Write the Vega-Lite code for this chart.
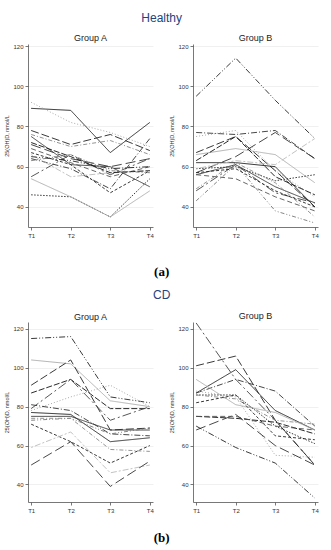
{
  "$schema": "https://vega.github.io/schema/vega-lite/v6.json",
  "padding": {"left": 4, "top": 12, "right": 5, "bottom": 3},
  "background": "white",
  "config": {
    "view": {"stroke": null},
    "font": "Liberation Sans",
    "title": {"font": "Liberation Sans", "fontWeight": "normal", "fontSize": 12, "color": "#24427e", "anchor": "middle"},
    "axis": {"domainColor": "#555", "tickColor": "#555", "tickSize": 3, "labelFontSize": 6, "labelColor": "#333", "titleFontSize": 5.5, "titleFontWeight": "normal", "titleColor": "#333", "gridColor": "#ececec", "gridWidth": 0.8, "domainWidth": 0.8, "tickWidth": 0.8, "labelFont": "Liberation Sans", "titleFont": "Liberation Sans"},
    "line": {"strokeWidth": 0.9}
  },
  "data": {"values": [
    {"c":"H","g":"A","s":"01","t":"T1","v":89},{"c":"H","g":"A","s":"01","t":"T2","v":88},{"c":"H","g":"A","s":"01","t":"T3","v":67},{"c":"H","g":"A","s":"01","t":"T4","v":82},
    {"c":"H","g":"A","s":"04","t":"T1","v":92},{"c":"H","g":"A","s":"04","t":"T2","v":82},{"c":"H","g":"A","s":"04","t":"T3","v":77},{"c":"H","g":"A","s":"04","t":"T4","v":70},
    {"c":"H","g":"A","s":"02","t":"T1","v":78},{"c":"H","g":"A","s":"02","t":"T2","v":71},{"c":"H","g":"A","s":"02","t":"T3","v":76},{"c":"H","g":"A","s":"02","t":"T4","v":68},
    {"c":"H","g":"A","s":"12","t":"T1","v":76},{"c":"H","g":"A","s":"12","t":"T2","v":70},{"c":"H","g":"A","s":"12","t":"T3","v":73},{"c":"H","g":"A","s":"12","t":"T4","v":66},
    {"c":"H","g":"A","s":"09","t":"T1","v":75},{"c":"H","g":"A","s":"09","t":"T2","v":61},{"c":"H","g":"A","s":"09","t":"T3","v":60},{"c":"H","g":"A","s":"09","t":"T4","v":50},
    {"c":"H","g":"A","s":"13","t":"T1","v":71},{"c":"H","g":"A","s":"13","t":"T2","v":64},{"c":"H","g":"A","s":"13","t":"T3","v":60},{"c":"H","g":"A","s":"13","t":"T4","v":64},
    {"c":"H","g":"A","s":"10","t":"T1","v":69},{"c":"H","g":"A","s":"10","t":"T2","v":62},{"c":"H","g":"A","s":"10","t":"T3","v":55},{"c":"H","g":"A","s":"10","t":"T4","v":60},
    {"c":"H","g":"A","s":"05","t":"T1","v":67},{"c":"H","g":"A","s":"05","t":"T2","v":61},{"c":"H","g":"A","s":"05","t":"T3","v":47},{"c":"H","g":"A","s":"05","t":"T4","v":58},
    {"c":"H","g":"A","s":"03","t":"T1","v":64},{"c":"H","g":"A","s":"03","t":"T2","v":59},{"c":"H","g":"A","s":"03","t":"T3","v":49},{"c":"H","g":"A","s":"03","t":"T4","v":74},
    {"c":"H","g":"A","s":"11","t":"T1","v":46},{"c":"H","g":"A","s":"11","t":"T2","v":45},{"c":"H","g":"A","s":"11","t":"T3","v":35},{"c":"H","g":"A","s":"11","t":"T4","v":54},
    {"c":"H","g":"A","s":"08","t":"T1","v":55},{"c":"H","g":"A","s":"08","t":"T2","v":66},{"c":"H","g":"A","s":"08","t":"T3","v":56},{"c":"H","g":"A","s":"08","t":"T4","v":64},
    {"c":"H","g":"A","s":"07","t":"T1","v":54},{"c":"H","g":"A","s":"07","t":"T2","v":45},{"c":"H","g":"A","s":"07","t":"T3","v":35},{"c":"H","g":"A","s":"07","t":"T4","v":48},
    {"c":"H","g":"A","s":"16","t":"T1","v":66},{"c":"H","g":"A","s":"16","t":"T2","v":55},{"c":"H","g":"A","s":"16","t":"T3","v":57},{"c":"H","g":"A","s":"16","t":"T4","v":58},
    {"c":"H","g":"A","s":"15","t":"T1","v":72},{"c":"H","g":"A","s":"15","t":"T2","v":65},{"c":"H","g":"A","s":"15","t":"T3","v":57},{"c":"H","g":"A","s":"15","t":"T4","v":58},
    {"c":"H","g":"A","s":"06","t":"T1","v":65},{"c":"H","g":"A","s":"06","t":"T2","v":63},{"c":"H","g":"A","s":"06","t":"T3","v":59},{"c":"H","g":"A","s":"06","t":"T4","v":60},
    {"c":"H","g":"A","s":"14","t":"T1","v":63},{"c":"H","g":"A","s":"14","t":"T2","v":66},{"c":"H","g":"A","s":"14","t":"T3","v":58},{"c":"H","g":"A","s":"14","t":"T4","v":57},

    {"c":"H","g":"B","s":"06","t":"T1","v":95},{"c":"H","g":"B","s":"06","t":"T2","v":114},{"c":"H","g":"B","s":"06","t":"T3","v":93},{"c":"H","g":"B","s":"06","t":"T4","v":74},
    {"c":"H","g":"B","s":"03","t":"T1","v":77},{"c":"H","g":"B","s":"03","t":"T2","v":76},{"c":"H","g":"B","s":"03","t":"T3","v":78},{"c":"H","g":"B","s":"03","t":"T4","v":64},
    {"c":"H","g":"B","s":"04","t":"T1","v":75},{"c":"H","g":"B","s":"04","t":"T2","v":78},{"c":"H","g":"B","s":"04","t":"T3","v":58},{"c":"H","g":"B","s":"04","t":"T4","v":45},
    {"c":"H","g":"B","s":"07","t":"T1","v":66},{"c":"H","g":"B","s":"07","t":"T2","v":69},{"c":"H","g":"B","s":"07","t":"T3","v":66},{"c":"H","g":"B","s":"07","t":"T4","v":52},
    {"c":"H","g":"B","s":"02","t":"T1","v":67},{"c":"H","g":"B","s":"02","t":"T2","v":75},{"c":"H","g":"B","s":"02","t":"T3","v":58},{"c":"H","g":"B","s":"02","t":"T4","v":40},
    {"c":"H","g":"B","s":"15","t":"T1","v":63},{"c":"H","g":"B","s":"15","t":"T2","v":75},{"c":"H","g":"B","s":"15","t":"T3","v":55},{"c":"H","g":"B","s":"15","t":"T4","v":46},
    {"c":"H","g":"B","s":"01","t":"T1","v":62},{"c":"H","g":"B","s":"01","t":"T2","v":62},{"c":"H","g":"B","s":"01","t":"T3","v":60},{"c":"H","g":"B","s":"01","t":"T4","v":40},
    {"c":"H","g":"B","s":"09","t":"T1","v":56},{"c":"H","g":"B","s":"09","t":"T2","v":61},{"c":"H","g":"B","s":"09","t":"T3","v":50},{"c":"H","g":"B","s":"09","t":"T4","v":42},
    {"c":"H","g":"B","s":"13","t":"T1","v":57},{"c":"H","g":"B","s":"13","t":"T2","v":65},{"c":"H","g":"B","s":"13","t":"T3","v":77},{"c":"H","g":"B","s":"13","t":"T4","v":64},
    {"c":"H","g":"B","s":"11","t":"T1","v":59},{"c":"H","g":"B","s":"11","t":"T2","v":60},{"c":"H","g":"B","s":"11","t":"T3","v":53},{"c":"H","g":"B","s":"11","t":"T4","v":56},
    {"c":"H","g":"B","s":"08","t":"T1","v":48},{"c":"H","g":"B","s":"08","t":"T2","v":61},{"c":"H","g":"B","s":"08","t":"T3","v":47},{"c":"H","g":"B","s":"08","t":"T4","v":42},
    {"c":"H","g":"B","s":"14","t":"T1","v":43},{"c":"H","g":"B","s":"14","t":"T2","v":61},{"c":"H","g":"B","s":"14","t":"T3","v":38},{"c":"H","g":"B","s":"14","t":"T4","v":32},
    {"c":"H","g":"B","s":"16","t":"T1","v":59},{"c":"H","g":"B","s":"16","t":"T2","v":63},{"c":"H","g":"B","s":"16","t":"T3","v":61},{"c":"H","g":"B","s":"16","t":"T4","v":74},
    {"c":"H","g":"B","s":"10","t":"T1","v":56},{"c":"H","g":"B","s":"10","t":"T2","v":54},{"c":"H","g":"B","s":"10","t":"T3","v":45},{"c":"H","g":"B","s":"10","t":"T4","v":38},
    {"c":"H","g":"B","s":"12","t":"T1","v":49},{"c":"H","g":"B","s":"12","t":"T2","v":62},{"c":"H","g":"B","s":"12","t":"T3","v":52},{"c":"H","g":"B","s":"12","t":"T4","v":35},
    {"c":"H","g":"B","s":"05","t":"T1","v":57},{"c":"H","g":"B","s":"05","t":"T2","v":59},{"c":"H","g":"B","s":"05","t":"T3","v":48},{"c":"H","g":"B","s":"05","t":"T4","v":40},

    {"c":"C","g":"A","s":"06","t":"T1","v":115},{"c":"C","g":"A","s":"06","t":"T2","v":116},{"c":"C","g":"A","s":"06","t":"T3","v":85},{"c":"C","g":"A","s":"06","t":"T4","v":82},
    {"c":"C","g":"A","s":"07","t":"T1","v":104},{"c":"C","g":"A","s":"07","t":"T2","v":102},{"c":"C","g":"A","s":"07","t":"T3","v":83},{"c":"C","g":"A","s":"07","t":"T4","v":80},
    {"c":"C","g":"A","s":"02","t":"T1","v":91},{"c":"C","g":"A","s":"02","t":"T2","v":104},{"c":"C","g":"A","s":"02","t":"T3","v":68},{"c":"C","g":"A","s":"02","t":"T4","v":69},
    {"c":"C","g":"A","s":"15","t":"T1","v":87},{"c":"C","g":"A","s":"15","t":"T2","v":94},{"c":"C","g":"A","s":"15","t":"T3","v":79},{"c":"C","g":"A","s":"15","t":"T4","v":79},
    {"c":"C","g":"A","s":"08","t":"T1","v":79},{"c":"C","g":"A","s":"08","t":"T2","v":94},{"c":"C","g":"A","s":"08","t":"T3","v":73},{"c":"C","g":"A","s":"08","t":"T4","v":80},
    {"c":"C","g":"A","s":"04","t":"T1","v":78},{"c":"C","g":"A","s":"04","t":"T2","v":85},{"c":"C","g":"A","s":"04","t":"T3","v":91},{"c":"C","g":"A","s":"04","t":"T4","v":80},
    {"c":"C","g":"A","s":"03","t":"T1","v":81},{"c":"C","g":"A","s":"03","t":"T2","v":78},{"c":"C","g":"A","s":"03","t":"T3","v":66},{"c":"C","g":"A","s":"03","t":"T4","v":65},
    {"c":"C","g":"A","s":"01","t":"T1","v":77},{"c":"C","g":"A","s":"01","t":"T2","v":76},{"c":"C","g":"A","s":"01","t":"T3","v":62},{"c":"C","g":"A","s":"01","t":"T4","v":64},
    {"c":"C","g":"A","s":"09","t":"T1","v":75},{"c":"C","g":"A","s":"09","t":"T2","v":75},{"c":"C","g":"A","s":"09","t":"T3","v":68},{"c":"C","g":"A","s":"09","t":"T4","v":68},
    {"c":"C","g":"A","s":"14","t":"T1","v":73},{"c":"C","g":"A","s":"14","t":"T2","v":74},{"c":"C","g":"A","s":"14","t":"T3","v":66},{"c":"C","g":"A","s":"14","t":"T4","v":69},
    {"c":"C","g":"A","s":"05","t":"T1","v":71},{"c":"C","g":"A","s":"05","t":"T2","v":62},{"c":"C","g":"A","s":"05","t":"T3","v":51},{"c":"C","g":"A","s":"05","t":"T4","v":60},
    {"c":"C","g":"A","s":"16","t":"T1","v":59},{"c":"C","g":"A","s":"16","t":"T2","v":67},{"c":"C","g":"A","s":"16","t":"T3","v":46},{"c":"C","g":"A","s":"16","t":"T4","v":50},
    {"c":"C","g":"A","s":"13","t":"T1","v":50},{"c":"C","g":"A","s":"13","t":"T2","v":62},{"c":"C","g":"A","s":"13","t":"T3","v":39},{"c":"C","g":"A","s":"13","t":"T4","v":52},
    {"c":"C","g":"A","s":"12","t":"T1","v":74},{"c":"C","g":"A","s":"12","t":"T2","v":74},{"c":"C","g":"A","s":"12","t":"T3","v":58},{"c":"C","g":"A","s":"12","t":"T4","v":57},

    {"c":"C","g":"B","s":"08","t":"T1","v":123},{"c":"C","g":"B","s":"08","t":"T2","v":94},{"c":"C","g":"B","s":"08","t":"T3","v":73},{"c":"C","g":"B","s":"08","t":"T4","v":50},
    {"c":"C","g":"B","s":"02","t":"T1","v":101},{"c":"C","g":"B","s":"02","t":"T2","v":106},{"c":"C","g":"B","s":"02","t":"T3","v":73},{"c":"C","g":"B","s":"02","t":"T4","v":50},
    {"c":"C","g":"B","s":"01","t":"T1","v":87},{"c":"C","g":"B","s":"01","t":"T2","v":99},{"c":"C","g":"B","s":"01","t":"T3","v":78},{"c":"C","g":"B","s":"01","t":"T4","v":68},
    {"c":"C","g":"B","s":"03","t":"T1","v":87},{"c":"C","g":"B","s":"03","t":"T2","v":94},{"c":"C","g":"B","s":"03","t":"T3","v":88},{"c":"C","g":"B","s":"03","t":"T4","v":70},
    {"c":"C","g":"B","s":"07","t":"T1","v":94},{"c":"C","g":"B","s":"07","t":"T2","v":81},{"c":"C","g":"B","s":"07","t":"T3","v":77},{"c":"C","g":"B","s":"07","t":"T4","v":68},
    {"c":"C","g":"B","s":"11","t":"T1","v":86},{"c":"C","g":"B","s":"11","t":"T2","v":86},{"c":"C","g":"B","s":"11","t":"T3","v":70},{"c":"C","g":"B","s":"11","t":"T4","v":61},
    {"c":"C","g":"B","s":"12","t":"T1","v":86},{"c":"C","g":"B","s":"12","t":"T2","v":84},{"c":"C","g":"B","s":"12","t":"T3","v":73},{"c":"C","g":"B","s":"12","t":"T4","v":71},
    {"c":"C","g":"B","s":"05","t":"T1","v":82},{"c":"C","g":"B","s":"05","t":"T2","v":86},{"c":"C","g":"B","s":"05","t":"T3","v":65},{"c":"C","g":"B","s":"05","t":"T4","v":63},
    {"c":"C","g":"B","s":"04","t":"T1","v":88},{"c":"C","g":"B","s":"04","t":"T2","v":85},{"c":"C","g":"B","s":"04","t":"T3","v":55},{"c":"C","g":"B","s":"04","t":"T4","v":54},
    {"c":"C","g":"B","s":"15","t":"T1","v":75},{"c":"C","g":"B","s":"15","t":"T2","v":74},{"c":"C","g":"B","s":"15","t":"T3","v":72},{"c":"C","g":"B","s":"15","t":"T4","v":66},
    {"c":"C","g":"B","s":"13","t":"T1","v":68},{"c":"C","g":"B","s":"13","t":"T2","v":76},{"c":"C","g":"B","s":"13","t":"T3","v":60},{"c":"C","g":"B","s":"13","t":"T4","v":50},
    {"c":"C","g":"B","s":"06","t":"T1","v":70},{"c":"C","g":"B","s":"06","t":"T2","v":59},{"c":"C","g":"B","s":"06","t":"T3","v":51},{"c":"C","g":"B","s":"06","t":"T4","v":33},
    {"c":"C","g":"B","s":"10","t":"T1","v":75},{"c":"C","g":"B","s":"10","t":"T2","v":75},{"c":"C","g":"B","s":"10","t":"T3","v":70},{"c":"C","g":"B","s":"10","t":"T4","v":68}
  ]},
  "spacing": 10,
  "vconcat": [
    {
      "title": {"text": "Healthy", "offset": 9},
      "vconcat": [{
        "title": {"text": "(a)", "orient": "bottom", "font": "Liberation Serif", "fontWeight": "bold", "fontSize": 13, "color": "#000", "offset": 28},
        "spacing": 15,
        "hconcat": [
          {"width": 125, "height": 183, "title": {"text": "Group A", "fontSize": 9, "color": "#222", "offset": 0},
           "transform": [{"filter": "datum.c == 'H' && datum.g == 'A'"}],
           "mark": {"type": "line", "strokeWidth": 0.9},
           "encoding": {
             "x": {"field": "t", "type": "ordinal", "scale": {"type": "point", "padding": 0.08}, "axis": {"title": null, "labelAngle": 0, "grid": false}},
             "y": {"field": "v", "type": "quantitative", "scale": {"domain": [30, 121], "nice": false, "zero": false}, "axis": {"values": [40, 60, 80, 100, 120], "title": "25(OH)D, nmol/L", "titlePadding": 3, "grid": true}},
             "color": {"field": "s", "type": "nominal", "legend": null, "scale": {"domain": ["01","02","03","04","05","06","07","08","09","10","11","12","13","14","15","16"], "range": ["#1a1a1a","#222222","#333333","#a0a0a0","#222222","#222222","#aaaaaa","#444444","#333333","#555555","#222222","#888888","#333333","#777777","#111111","#bbbbbb"]}},
             "strokeDash": {"field": "s", "type": "nominal", "legend": null, "scale": {"domain": ["01","02","03","04","05","06","07","08","09","10","11","12","13","14","15","16"], "range": [[1,0],[8,3],[6,2,1,2],[1,2],[3,2],[6,2,1,2,1,2],[1,0],[9,3,2,3],[1,0],[5,3],[1.5,1.5],[4,2,1,2],[10,4],[4,2,1,2,1,2],[6,2],[2,2,6,2]]}}
           }},
          {"width": 125, "height": 183, "title": {"text": "Group B", "fontSize": 9, "color": "#222", "offset": 0},
           "transform": [{"filter": "datum.c == 'H' && datum.g == 'B'"}],
           "mark": {"type": "line", "strokeWidth": 0.9},
           "encoding": {
             "x": {"field": "t", "type": "ordinal", "scale": {"type": "point", "padding": 0.08}, "axis": {"title": null, "labelAngle": 0, "grid": false}},
             "y": {"field": "v", "type": "quantitative", "scale": {"domain": [30, 121], "nice": false, "zero": false}, "axis": {"values": [40, 60, 80, 100, 120], "title": "25(OH)D, nmol/L", "titlePadding": 3, "grid": true}},
             "color": {"field": "s", "type": "nominal", "legend": null, "scale": {"domain": ["01","02","03","04","05","06","07","08","09","10","11","12","13","14","15","16"], "range": ["#1a1a1a","#222222","#333333","#a0a0a0","#222222","#222222","#aaaaaa","#444444","#333333","#555555","#222222","#888888","#333333","#777777","#111111","#bbbbbb"]}},
             "strokeDash": {"field": "s", "type": "nominal", "legend": null, "scale": {"domain": ["01","02","03","04","05","06","07","08","09","10","11","12","13","14","15","16"], "range": [[1,0],[8,3],[6,2,1,2],[1,2],[3,2],[6,2,1,2,1,2],[1,0],[9,3,2,3],[1,0],[5,3],[1.5,1.5],[4,2,1,2],[10,4],[4,2,1,2,1,2],[6,2],[2,2,6,2]]}}
           }}
        ]
      }]
    },
    {
      "title": {"text": "CD", "offset": 10},
      "vconcat": [{
        "title": {"text": "(b)", "orient": "bottom", "font": "Liberation Serif", "fontWeight": "bold", "fontSize": 13, "color": "#000", "offset": 19},
        "spacing": 15,
        "hconcat": [
          {"width": 125, "height": 180, "title": {"text": "Group A", "fontSize": 9, "color": "#222", "offset": 0},
           "transform": [{"filter": "datum.c == 'C' && datum.g == 'A'"}],
           "mark": {"type": "line", "strokeWidth": 0.9},
           "encoding": {
             "x": {"field": "t", "type": "ordinal", "scale": {"type": "point", "padding": 0.08}, "axis": {"title": null, "labelAngle": 0, "grid": false}},
             "y": {"field": "v", "type": "quantitative", "scale": {"domain": [31, 123.5], "nice": false, "zero": false}, "axis": {"values": [40, 60, 80, 100, 120], "title": "25(OH)D, nmol/L", "titlePadding": 3, "grid": true}},
             "color": {"field": "s", "type": "nominal", "legend": null, "scale": {"domain": ["01","02","03","04","05","06","07","08","09","10","11","12","13","14","15","16"], "range": ["#1a1a1a","#222222","#333333","#a0a0a0","#222222","#222222","#aaaaaa","#444444","#333333","#555555","#222222","#888888","#333333","#777777","#111111","#bbbbbb"]}},
             "strokeDash": {"field": "s", "type": "nominal", "legend": null, "scale": {"domain": ["01","02","03","04","05","06","07","08","09","10","11","12","13","14","15","16"], "range": [[1,0],[8,3],[6,2,1,2],[1,2],[3,2],[6,2,1,2,1,2],[1,0],[9,3,2,3],[1,0],[5,3],[1.5,1.5],[4,2,1,2],[10,4],[4,2,1,2,1,2],[6,2],[2,2,6,2]]}}
           }},
          {"width": 125, "height": 180, "title": {"text": "Group B", "fontSize": 9, "color": "#222", "offset": 0},
           "transform": [{"filter": "datum.c == 'C' && datum.g == 'B'"}],
           "mark": {"type": "line", "strokeWidth": 0.9},
           "encoding": {
             "x": {"field": "t", "type": "ordinal", "scale": {"type": "point", "padding": 0.08}, "axis": {"title": null, "labelAngle": 0, "grid": false}},
             "y": {"field": "v", "type": "quantitative", "scale": {"domain": [31, 123.5], "nice": false, "zero": false}, "axis": {"values": [40, 60, 80, 100, 120], "title": "25(OH)D, nmol/L", "titlePadding": 3, "grid": true}},
             "color": {"field": "s", "type": "nominal", "legend": null, "scale": {"domain": ["01","02","03","04","05","06","07","08","09","10","11","12","13","14","15","16"], "range": ["#1a1a1a","#222222","#333333","#a0a0a0","#222222","#222222","#aaaaaa","#444444","#333333","#555555","#222222","#888888","#333333","#777777","#111111","#bbbbbb"]}},
             "strokeDash": {"field": "s", "type": "nominal", "legend": null, "scale": {"domain": ["01","02","03","04","05","06","07","08","09","10","11","12","13","14","15","16"], "range": [[1,0],[8,3],[6,2,1,2],[1,2],[3,2],[6,2,1,2,1,2],[1,0],[9,3,2,3],[1,0],[5,3],[1.5,1.5],[4,2,1,2],[10,4],[4,2,1,2,1,2],[6,2],[2,2,6,2]]}}
           }}
        ]
      }]
    }
  ]
}
